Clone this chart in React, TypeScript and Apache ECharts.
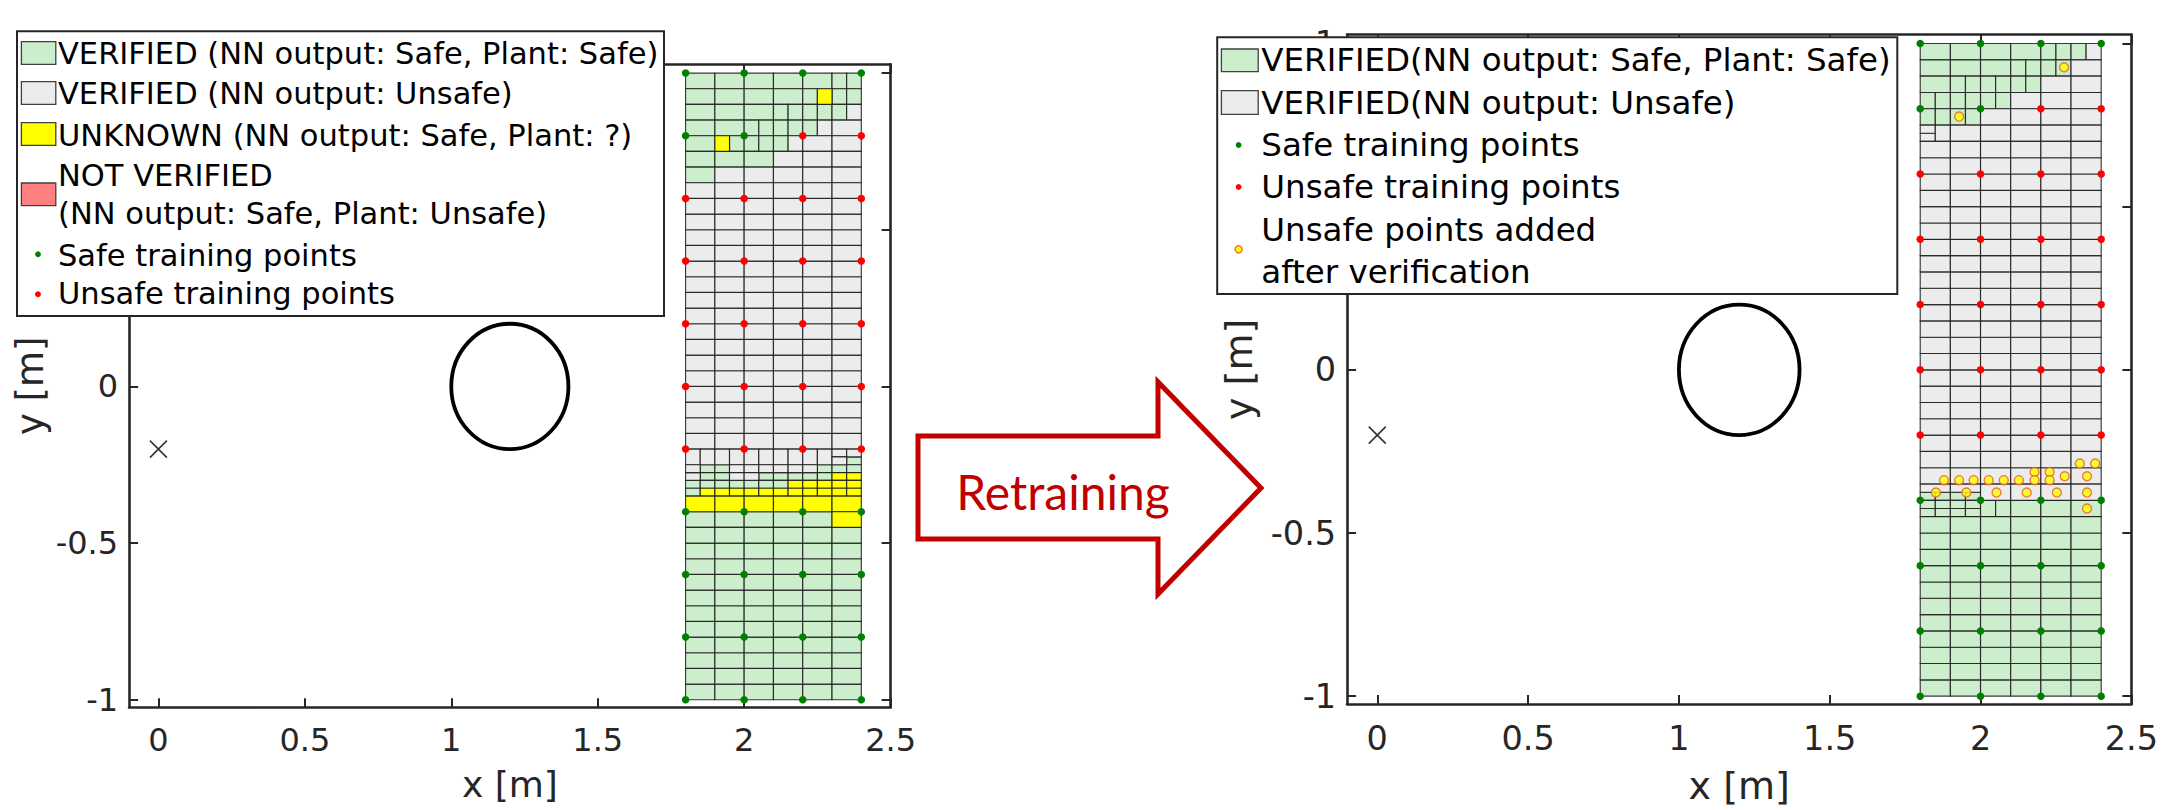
import React, { useEffect, useRef } from "react";
import * as echarts from "echarts";

// ---------- axes ----------
const X_MIN = -0.1;
const X_MAX = 2.5;
const xTicks = [0, 0.5, 1, 1.5, 2, 2.5];
const yTicks = [-1, -0.5, 0, 0.5, 1];
// tick labels that are not hidden under the legend boxes
const leftYLabels = [-1, -0.5, 0];
const rightYLabels = [-1, -0.5, 0, 1];
const LEFT_Y_RANGE = [-1.024, 1.028];
const RIGHT_Y_RANGE = [-1.024, 1.027];

// ---------- shared marks ----------
const startPoint = [[0, -0.2]];
const obstacle = [[1.2, 0, 0.2]]; // centre x, centre y, radius

const safeTrainingPoints = [
  [1.8, 1], [2.0, 1], [2.2, 1], [2.4, 1],
  [1.8, 0.8], [2.0, 0.8],
  [1.8, -0.4], [2.0, -0.4], [2.2, -0.4], [2.4, -0.4],
  [1.8, -0.6], [2.0, -0.6], [2.2, -0.6], [2.4, -0.6],
  [1.8, -0.8], [2.0, -0.8], [2.2, -0.8], [2.4, -0.8],
  [1.8, -1], [2.0, -1], [2.2, -1], [2.4, -1],
];
const unsafeTrainingPoints = [
  [2.2, 0.8], [2.4, 0.8],
  [1.8, 0.6], [2.0, 0.6], [2.2, 0.6], [2.4, 0.6],
  [1.8, 0.4], [2.0, 0.4], [2.2, 0.4], [2.4, 0.4],
  [1.8, 0.2], [2.0, 0.2], [2.2, 0.2], [2.4, 0.2],
  [1.8, 0], [2.0, 0], [2.2, 0], [2.4, 0],
  [1.8, -0.2], [2.0, -0.2], [2.2, -0.2], [2.4, -0.2],
];

// Unsafe points added after verification (right panel)
const addedUnsafePoints = [
  [2.277, 0.927], [1.929, 0.776],
  [2.329, -0.287], [2.38, -0.287],
  [2.179, -0.313], [2.229, -0.313],
  [2.279, -0.326], [2.353, -0.326],
  [1.879, -0.338], [1.929, -0.338], [1.977, -0.338], [2.027, -0.338],
  [2.077, -0.338], [2.127, -0.338], [2.179, -0.338], [2.229, -0.338],
  [1.852, -0.376], [1.953, -0.376], [2.053, -0.376], [2.153, -0.376],
  [2.253, -0.376], [2.353, -0.376],
  [2.353, -0.425],
];

// ---------- verification cells: blocks [x0, x1, y0, y1, cellWidth, cellHeight] ----------
const leftSafeBlocks = [
  [1.8, 2.3, 0.95, 1.0, 0.1, 0.05],
  [2.3, 2.4, 0.95, 1.0, 0.05, 0.05],
  [1.8, 2.2, 0.9, 0.95, 0.1, 0.05],
  [2.2, 2.25, 0.9, 0.95, 0.05, 0.05],
  [2.3, 2.4, 0.9, 0.95, 0.05, 0.05],
  [1.8, 2.1, 0.85, 0.9, 0.1, 0.05],
  [2.1, 2.35, 0.85, 0.9, 0.05, 0.05],
  [1.8, 2.0, 0.8, 0.85, 0.1, 0.05],
  [2.0, 2.25, 0.8, 0.85, 0.05, 0.05],
  [1.8, 1.9, 0.75, 0.8, 0.1, 0.05],
  [1.95, 2.15, 0.75, 0.8, 0.05, 0.05],
  [1.8, 2.1, 0.7, 0.75, 0.1, 0.05],
  [1.8, 1.9, 0.65, 0.7, 0.1, 0.05],
  [2.35, 2.4, -0.25, -0.225, 0.05, 0.025],
  [1.85, 1.95, -0.275, -0.25, 0.05, 0.025],
  [2.25, 2.4, -0.275, -0.25, 0.05, 0.025],
  [1.85, 1.95, -0.3, -0.275, 0.05, 0.025],
  [2.05, 2.3, -0.3, -0.275, 0.05, 0.025],
  [1.8, 2.15, -0.325, -0.3, 0.05, 0.025],
  [1.8, 1.85, -0.35, -0.325, 0.05, 0.025],
  [1.8, 2.3, -0.45, -0.4, 0.1, 0.05],
  [1.8, 2.4, -1.0, -0.45, 0.1, 0.05],
];
const leftUnsafeBlocks = [
  [2.35, 2.4, 0.85, 0.9, 0.05, 0.05],
  [2.25, 2.3, 0.8, 0.85, 0.05, 0.05],
  [2.3, 2.4, 0.8, 0.85, 0.1, 0.05],
  [2.15, 2.2, 0.75, 0.8, 0.05, 0.05],
  [2.2, 2.4, 0.75, 0.8, 0.1, 0.05],
  [2.1, 2.4, 0.7, 0.75, 0.1, 0.05],
  [1.9, 2.4, 0.65, 0.7, 0.1, 0.05],
  [1.8, 2.4, -0.2, 0.65, 0.1, 0.05],
  [1.8, 2.3, -0.25, -0.2, 0.05, 0.05],
  [2.3, 2.4, -0.225, -0.2, 0.05, 0.025],
  [2.3, 2.35, -0.25, -0.225, 0.05, 0.025],
  [1.8, 1.85, -0.3, -0.25, 0.05, 0.025],
  [1.95, 2.25, -0.275, -0.25, 0.05, 0.025],
  [1.95, 2.05, -0.3, -0.275, 0.05, 0.025],
];
const leftUnknownBlocks = [
  [2.25, 2.3, 0.9, 0.95, 0.05, 0.05],
  [1.9, 1.95, 0.75, 0.8, 0.05, 0.05],
  [2.3, 2.4, -0.3, -0.275, 0.05, 0.025],
  [2.15, 2.4, -0.325, -0.3, 0.05, 0.025],
  [1.85, 2.4, -0.35, -0.325, 0.05, 0.025],
  [1.8, 2.4, -0.4, -0.35, 0.1, 0.05],
  [2.3, 2.4, -0.45, -0.4, 0.1, 0.05],
];
const rightSafeBlocks = [
  [1.8, 2.2, 0.95, 1.0, 0.1, 0.05],
  [2.2, 2.35, 0.95, 1.0, 0.05, 0.05],
  [1.8, 2.1, 0.9, 0.95, 0.1, 0.05],
  [2.1, 2.3, 0.9, 0.95, 0.05, 0.05],
  [1.8, 1.9, 0.85, 0.9, 0.1, 0.05],
  [1.9, 2.2, 0.85, 0.9, 0.05, 0.05],
  [1.8, 2.1, 0.8, 0.85, 0.05, 0.05],
  [1.8, 2.0, 0.75, 0.8, 0.05, 0.05],
  [1.8, 2.0, -0.4, -0.375, 0.05, 0.025],
  [1.8, 2.0, -0.45, -0.4, 0.05, 0.025],
  [2.0, 2.1, -0.45, -0.4, 0.05, 0.05],
  [2.1, 2.4, -0.45, -0.4, 0.1, 0.05],
  [1.8, 2.4, -1.0, -0.45, 0.1, 0.05],
];
const rightUnsafeBlocks = [
  [2.35, 2.4, 0.95, 1.0, 0.05, 0.05],
  [2.3, 2.4, 0.9, 0.95, 0.1, 0.05],
  [2.2, 2.4, 0.85, 0.9, 0.1, 0.05],
  [2.1, 2.4, 0.8, 0.85, 0.1, 0.05],
  [2.0, 2.4, 0.75, 0.8, 0.1, 0.05],
  [1.8, 1.85, 0.7, 0.75, 0.05, 0.025],
  [1.85, 1.9, 0.7, 0.75, 0.05, 0.05],
  [1.9, 2.4, 0.7, 0.75, 0.1, 0.05],
  [1.8, 2.4, -0.35, 0.7, 0.1, 0.05],
  [1.8, 2.0, -0.375, -0.35, 0.1, 0.025],
  [2.0, 2.4, -0.4, -0.35, 0.1, 0.05],
];

// ---------- colours ----------
const C_SAFE = "#cdeecd";
const C_UNSAFE = "#ececec";
const C_UNKNOWN = "#ffff00";
const C_NOTVER = "#ff8080";
const C_AXIS = "#262626";
const C_ARROW = "#c00000";

function expand(blocks: number[][]) {
  const out: number[][] = [];
  for (const [x0, x1, y0, y1, w, h] of blocks) {
    const nx = Math.round((x1 - x0) / w);
    const ny = Math.round((y1 - y0) / h);
    for (let i = 0; i < nx; i++) {
      for (let j = 0; j < ny; j++) {
        const a = +(x0 + i * w).toFixed(4);
        const b = +(y0 + j * h).toFixed(4);
        out.push([a, +(a + w).toFixed(4), b, +(b + h).toFixed(4)]);
      }
    }
  }
  return out;
}

function cellSeries(blocks: number[][], color: string, axis: number) {
  return {
    type: "custom",
    xAxisIndex: axis * 2,
    yAxisIndex: axis * 2,
    silent: true,
    z: 2,
    data: expand(blocks),
    encode: { x: [0, 1], y: [2, 3] },
    renderItem: (_p: any, api: any) => {
      const p0 = api.coord([api.value(0), api.value(3)]);
      const p1 = api.coord([api.value(1), api.value(2)]);
      return {
        type: "rect",
        shape: { x: p0[0], y: p0[1], width: p1[0] - p0[0], height: p1[1] - p0[1] },
        style: { fill: color, stroke: "rgba(25,25,25,0.85)", lineWidth: 1.15 },
      };
    },
  };
}

function obstacleSeries(axis: number) {
  return {
    type: "custom",
    xAxisIndex: axis * 2,
    yAxisIndex: axis * 2,
    silent: true,
    z: 3,
    data: obstacle,
    encode: { x: 0, y: 1 },
    renderItem: (_p: any, api: any) => {
      const c = api.coord([api.value(0), api.value(1)]);
      const s = api.size([api.value(2), api.value(2)]);
      return {
        type: "ellipse",
        shape: { cx: c[0], cy: c[1], rx: s[0], ry: s[1] },
        style: { fill: "none", stroke: "#000", lineWidth: 3.8 },
      };
    },
  };
}

function scatter(data: number[][], axis: number, color: string, size: number, extra: any = {}) {
  return {
    type: "scatter",
    xAxisIndex: axis * 2,
    yAxisIndex: axis * 2,
    silent: true,
    z: 4,
    symbolSize: size,
    data,
    itemStyle: { color, opacity: 1 },
    ...extra,
  };
}

function xAxes(grid: number, fontSize: number, nameSize: number, nameGap: number) {
  const common = {
    type: "value",
    gridIndex: grid,
    min: X_MIN,
    max: X_MAX,
    splitLine: { show: false },
    axisLine: { show: true, onZero: false, lineStyle: { color: C_AXIS, width: 2.6 } },
    axisTick: { show: true, inside: true, length: 9, customValues: xTicks, lineStyle: { color: C_AXIS, width: 2 } },
  };
  return [
    {
      ...common,
      position: "bottom",
      axisLabel: { show: true, customValues: xTicks, margin: 17, color: C_AXIS, fontSize, fontFamily: "DejaVu Sans" },
      name: "x [m]",
      nameLocation: "middle",
      nameGap,
      nameTextStyle: { color: C_AXIS, fontSize: nameSize, fontFamily: "DejaVu Sans" },
    },
    { ...common, position: "top", axisLabel: { show: false } },
  ];
}

function yAxes(grid: number, range: number[], labels: number[], fontSize: number, nameSize: number, nameGap: number) {
  const common = {
    type: "value",
    gridIndex: grid,
    min: range[0],
    max: range[1],
    splitLine: { show: false },
    axisLine: { show: true, onZero: false, lineStyle: { color: C_AXIS, width: 2.6 } },
    axisTick: { show: true, inside: true, length: 9, customValues: yTicks, lineStyle: { color: C_AXIS, width: 2 } },
  };
  return [
    {
      ...common,
      position: "left",
      axisLabel: { show: true, customValues: labels, margin: 11, color: C_AXIS, fontSize, fontFamily: "DejaVu Sans" },
      name: "y [m]",
      nameLocation: "middle",
      nameRotate: 90,
      nameGap,
      nameTextStyle: { color: C_AXIS, fontSize: nameSize, fontFamily: "DejaVu Sans" },
    },
    { ...common, position: "right", axisLabel: { show: false } },
  ];
}

function txt(x: number, y: number, text: string, size: number) {
  return {
    type: "text",
    x,
    y,
    z: 102,
    style: { text, fontSize: size, fontFamily: "DejaVu Sans", fill: "#000", align: "left", verticalAlign: "middle" },
  };
}
function patch(x: number, y: number, w: number, h: number, fill: string) {
  return { type: "rect", z: 101, shape: { x, y, width: w, height: h }, style: { fill, stroke: "#404040", lineWidth: 1.3 } };
}
function dot(cx: number, cy: number, r: number, fill: string, stroke?: string) {
  return {
    type: "circle",
    z: 101,
    shape: { cx, cy, r },
    style: stroke ? { fill, stroke, lineWidth: 1.2 } : { fill },
  };
}

export default function App() {
  const ref = useRef<HTMLDivElement>(null);
  useEffect(() => {
    if (!ref.current) return;
    const chart = echarts.init(ref.current, undefined, { renderer: "svg" });
    const xMarker = {
      symbol: "path://M0,0L10,10M10,0L0,10",
      itemStyle: { color: "transparent", borderColor: "#000", borderWidth: 1.6 },
    };
    const addedStyle = { itemStyle: { color: "#ffff00", borderColor: "#f05a28", borderWidth: 1.4 } };

    const LW = 30.5; // left legend font
    const RW = 32.5; // right legend font
    const graphic = [
      // left legend
      { type: "rect", z: 100, shape: { x: 17, y: 31.3, width: 647, height: 284.7 }, style: { fill: "#fff", stroke: C_AXIS, lineWidth: 2 } },
      patch(21.4, 41.7, 34.4, 22.6, C_SAFE),
      patch(21.4, 81.7, 34.4, 22.6, C_UNSAFE),
      patch(21.4, 122.7, 34.4, 22.6, C_UNKNOWN),
      patch(21.4, 183, 34.4, 22.6, C_NOTVER),
      dot(38, 254.3, 2.9, "#008000"),
      dot(38, 294.3, 2.9, "#ff0000"),
      txt(58, 53.3, "VERIFIED (NN output: Safe, Plant: Safe)", LW),
      txt(58, 93.3, "VERIFIED (NN output: Unsafe)", LW),
      txt(58, 135, "UNKNOWN (NN output: Safe, Plant: ?)", LW),
      txt(58, 175, "NOT VERIFIED", LW),
      txt(58, 213.3, "(NN output: Safe, Plant: Unsafe)", LW),
      txt(58, 255, "Safe training points", LW),
      txt(58, 293.3, "Unsafe training points", LW),
      // right legend
      { type: "rect", z: 100, shape: { x: 1217.2, y: 37.3, width: 680.1, height: 256.7 }, style: { fill: "#fff", stroke: C_AXIS, lineWidth: 2 } },
      patch(1221.4, 49, 36.8, 22.7, C_SAFE),
      patch(1221.4, 90.7, 36.8, 23.6, C_UNSAFE),
      dot(1238.6, 145, 2.9, "#008000"),
      dot(1238.6, 187, 2.9, "#ff0000"),
      dot(1238.6, 249.3, 3.6, "#ffff00", "#f05a28"),
      txt(1261.3, 60, "VERIFIED(NN output: Safe, Plant: Safe)", RW),
      txt(1261.3, 102.7, "VERIFIED(NN output: Unsafe)", RW),
      txt(1261.3, 145, "Safe training points", RW),
      txt(1261.3, 186.7, "Unsafe training points", RW),
      txt(1261.3, 230, "Unsafe points added", RW),
      txt(1261.3, 271.7, "after verification", RW),
      // arrow
      {
        type: "polygon",
        z: 100,
        shape: { points: [[918, 436], [1158, 436], [1158, 382], [1261, 488], [1158, 594], [1158, 539], [918, 539]] },
        style: { fill: "#fff", stroke: C_ARROW, lineWidth: 5, lineJoin: "miter" },
      },
      {
        type: "text",
        z: 101,
        x: 1063,
        y: 491,
        style: { text: "Retraining", fontSize: 48, fontFamily: "Lato", fill: C_ARROW, align: "center", verticalAlign: "middle" },
      },
    ];

    chart.setOption({
      animation: false,
      grid: [
        { left: 129.1, right: 1270.4, top: 64.3, bottom: 102.7 },
        { left: 1347.1, right: 17.5, top: 34.7, bottom: 101 },
      ],
      xAxis: [...xAxes(0, 32, 36, 59), ...xAxes(1, 33.5, 38, 63)],
      yAxis: [
        ...yAxes(0, LEFT_Y_RANGE, leftYLabels, 32, 37, 80),
        ...yAxes(1, RIGHT_Y_RANGE, rightYLabels, 33.5, 38, 89),
      ],
      series: [
        cellSeries(leftSafeBlocks, C_SAFE, 0),
        cellSeries(leftUnsafeBlocks, C_UNSAFE, 0),
        cellSeries(leftUnknownBlocks, C_UNKNOWN, 0),
        obstacleSeries(0),
        scatter(startPoint, 0, "#000", 17, xMarker),
        scatter(safeTrainingPoints, 0, "#008000", 7.5),
        scatter(unsafeTrainingPoints, 0, "#ff0000", 7.5),
        cellSeries(rightSafeBlocks, C_SAFE, 1),
        cellSeries(rightUnsafeBlocks, C_UNSAFE, 1),
        obstacleSeries(1),
        scatter(startPoint, 1, "#000", 17, xMarker),
        scatter(safeTrainingPoints, 1, "#008000", 7.5),
        scatter(unsafeTrainingPoints, 1, "#ff0000", 7.5),
        scatter(addedUnsafePoints, 1, "#ffff00", 9, addedStyle),
      ],
      graphic: { elements: graphic },
    });
    return () => chart.dispose();
  }, []);
  return (
    <div
      ref={ref}
      style={{ position: "fixed", left: 0, top: 0, width: 2161, height: 810, background: "#fff" }}
    />
  );
}
